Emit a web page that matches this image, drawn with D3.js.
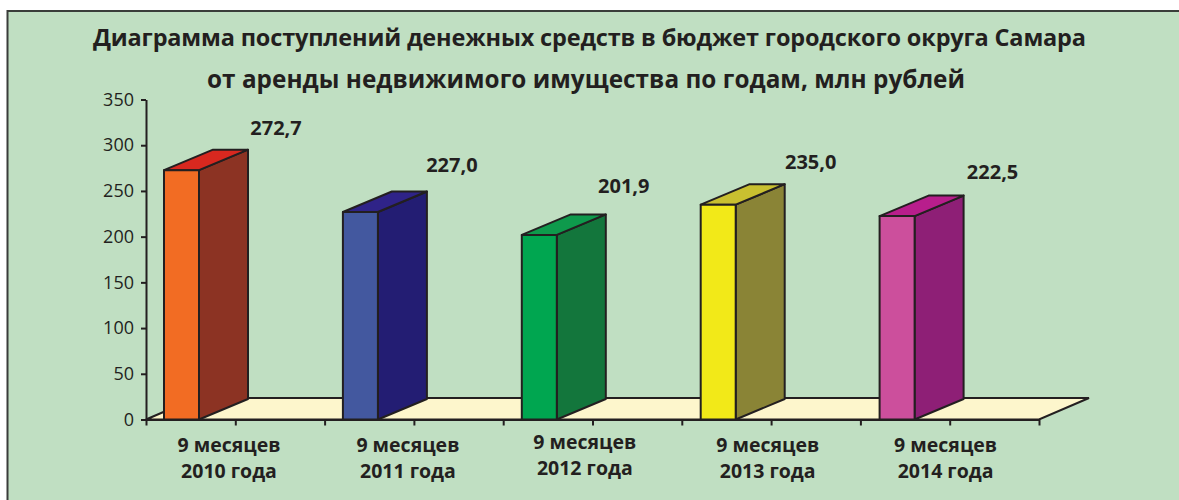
<!DOCTYPE html>
<html><head><meta charset="utf-8">
<script src="https://cdn.jsdelivr.net/npm/d3@7"></script>
<style>html,body{margin:0;padding:0;background:#fff}svg{display:block}text{font-family:"Open Sans",sans-serif;fill:#231f20}</style>
</head><body><div id="c"></div>
<script>
const categories1 = ["9 месяцев","9 месяцев","9 месяцев","9 месяцев","9 месяцев"];
const categories2 = ["2010 года","2011 года","2012 года","2013 года","2014 года"];
const values = [272.7,227.0,201.9,235.0,222.5];
const valueLabels = ["272,7","227,0","201,9","235,0","222,5"];
const frontColors = ["#f26c23","#43589f","#00a650","#f2e918","#cc4f9c"];
const sideColors = ["#8c3323","#231d73","#13763c","#8a8436","#8e1f76"];
const topColors = ["#d8281f","#2f2388","#0e9a4c","#c9c030","#b81e8c"];
const yTicks = [0,50,100,150,200,250,300,350];
const titleLines = ["Диаграмма поступлений денежных средств в бюджет городского округа Самара","от аренды недвижимого имущества по годам, млн рублей"];

const W=1179,H=500, dx=49, dy=-20.5, ink="#231f20", sw=2;
const labelShiftX=[0,-3,-10,-2,1], labelShiftY=[-1,-5,-7,-1,-3], catShiftY=[0,0,-3,0,0], catShiftX=[0,0,-2,2,1];
const svg=d3.select("#c").append("svg").attr("width",W).attr("height",H);
svg.append("rect").attr("x",7.5).attr("y",11).attr("width",W).attr("height",H).attr("fill","#c0dfc2").attr("stroke","#3a3d3a").attr("stroke-width",2);

titleLines.forEach((t,i)=>svg.append("text").attr("x",[589.5,586][i]).attr("y",[45.5,88][i]).attr("text-anchor","middle").attr("font-size",[23.5,24.3][i]).attr("font-weight",700).attr("textLength",[993,758][i]).attr("lengthAdjust","spacing").text(t));

const y=d3.scaleLinear().domain([0,350]).range([419.5,99.5]);
const step=178.9, pi=1-35/step, po=18/step;
const x=d3.scaleBand().domain(d3.range(values.length)).range([146,146+step*(values.length-pi+2*po)]).paddingInner(pi).paddingOuter(po).align(0.5);
const bw=x.bandwidth();
const xt=d3.scaleLinear().domain([0,10]).range([146,1039]);

// floor
const fdx=50, fdy=-21.5;
svg.append("path").attr("d",`M${xt(0)},${y(0)} l${fdx},${fdy} L${xt(10)+fdx},${y(0)+fdy} L${xt(10)},${y(0)}Z`).attr("fill","#fdf6cc").attr("stroke",ink).attr("stroke-width",sw);

// bars
values.forEach((v,i)=>{
  const x0=x(i),x1=x0+bw,yt=y(v),yb=y(0);
  const g=svg.append("g").attr("stroke",ink).attr("stroke-width",sw).attr("stroke-linejoin","round");
  g.append("path").attr("d",`M${x1},${yb} L${x1+dx},${yb+dy} L${x1+dx},${yt+dy} L${x1},${yt}Z`).attr("fill",sideColors[i]);
  g.append("path").attr("d",`M${x0},${yt} L${x0+dx},${yt+dy} L${x1+dx},${yt+dy} L${x1},${yt}Z`).attr("fill",topColors[i]);
  g.append("rect").attr("x",x0).attr("y",yt).attr("width",bw).attr("height",yb-yt).attr("fill",frontColors[i]);
  svg.append("text").attr("x",x1+dx+28+labelShiftX[i]).attr("y",yt+dy-14+labelShiftY[i]).attr("text-anchor","middle").attr("font-size",20).attr("font-weight",700).text(valueLabels[i]);
  svg.append("text").attr("x",x0+65+catShiftX[i]).attr("y",452+catShiftY[i]).attr("text-anchor","middle").attr("font-size",19.5).attr("font-weight",700).text(categories1[i]);
  svg.append("text").attr("x",x0+65+catShiftX[i]).attr("y",478+catShiftY[i]).attr("text-anchor","middle").attr("font-size",19.5).attr("font-weight",700).text(categories2[i]);
});

// axes
const gy=svg.append("g").attr("transform","translate(146,0)").call(d3.axisLeft(y).tickValues(yTicks).tickSize(5).tickSizeOuter(0).tickPadding(7));
gy.selectAll("text").attr("font-size",18).style("font-family",'"Open Sans",sans-serif').attr("fill",ink);
gy.selectAll("line,path").attr("stroke",ink).attr("stroke-width",sw);
const gx=svg.append("g").attr("transform","translate(0,419.5)").call(d3.axisBottom(xt).ticks(10).tickSize(6).tickSizeOuter(0).tickFormat(""));
gx.selectAll("line,path").attr("stroke",ink).attr("stroke-width",sw);
</script></body></html>
